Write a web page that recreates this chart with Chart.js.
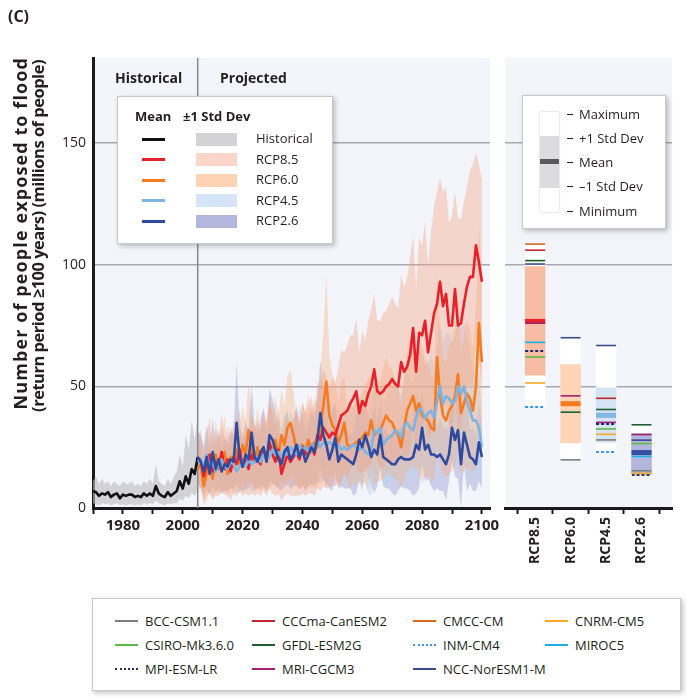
<!DOCTYPE html>
<html>
<head>
<meta charset="utf-8">
<script src="https://cdn.jsdelivr.net/npm/chart.js@4.4.1/dist/chart.umd.min.js"></script>
<style>
  body { margin: 0; background: #fff; font-family: 'Open Sans', 'Noto Sans', sans-serif; color: #231f20; }
  #wrap { position: relative; width: 687px; height: 698px; overflow: hidden; }
  canvas { position: absolute; top: 0; }
  .abs { position: absolute; white-space: nowrap; }
  .box { position: absolute; background: #fff; border: 1px solid #c9c9cb; box-shadow: 2px 2px 5px rgba(0,0,0,0.25); }
  .lbl { position: absolute; font-size: 13px; line-height: 16px; white-space: nowrap; }
  #ytitle { position: absolute; left: 0; top: 0; width: 358px; transform-origin: 0 0;
            transform: translate(11px, 415px) rotate(-90deg); text-align: right; font-weight: bold; white-space: nowrap; }
  #ytitle div { height: 18px; line-height: 18px; }
</style>
</head>
<body>
<div id="wrap">
  <canvas id="main" width="520" height="570" style="left:0"></canvas>
  <canvas id="side" width="197" height="570" style="left:490px"></canvas>
  <div class="abs" style="left:8px;top:5px;font-size:16px;font-weight:bold">(C)</div>
  <div id="ytitle">
    <div style="font-size:18px;letter-spacing:1.1px">Number of people exposed to flood</div>
    <div style="font-size:16.5px;letter-spacing:-0.5px;padding-right:3px">(return period &#8805;100 years) (millions of people)</div>
  </div>
  <div class="abs" style="left:115px;top:68px;font-size:14px;font-weight:bold">Historical</div>
  <div class="abs" style="left:220px;top:68px;font-size:14px;font-weight:bold">Projected</div>
  <div id="legMain" class="box" style="left:117px;top:96px;width:214px;height:146px"></div>
  <div id="legSide" class="box" style="left:522px;top:95px;width:142px;height:132px"></div>
  <div id="legModels" class="box" style="left:92px;top:598px;width:587px;height:91px"></div>
</div>
<script>
// ---- historical ensemble, 1970-2005 (millions of people)
const HIST_START = 1970;
const histMean = [
  7, 6.5, 5, 6, 5.5, 6.5, 4.5, 5.5, 6, 4,
  5.5, 5, 5.5, 5.5, 4.5, 5, 4.5, 6, 5, 6,
  5, 9, 6, 5, 4.5, 6.5, 5, 6, 7, 11,
  8, 13, 10, 16, 14, 21
];
const histUpper = [
  11, 13, 10, 12, 10, 11, 9, 11, 10, 9,
  11, 10, 10, 11, 9, 10, 9, 11, 10, 12,
  10, 18, 11, 10, 9, 12, 10, 13, 15, 22,
  17, 30, 24, 36, 28, 38
];
const histLower = [
  2, 1.5, 1, 2, 1.5, 2, 1, 1.5, 2, 1,
  1.5, 1, 1.5, 1.5, 1, 1.5, 1, 2, 1.5, 2,
  1.5, 3, 2, 1.5, 1, 2, 1.5, 2, 2, 4,
  3, 5, 4, 6, 5, 7
];

// ---- projections, 2005-2100
const PROJ_START = 2005;
const rcp85Mean = [
  20, 20, 13, 18, 22, 15, 19, 17, 23, 16,
  20, 15, 21, 18, 24, 17, 20, 16, 22, 19,
  21, 18, 24, 20, 27, 22, 19, 24, 14, 18,
  22, 19, 21, 23, 20, 25, 22, 24, 26, 22,
  30, 28, 33, 31, 29, 31, 30, 34, 38, 39,
  40, 43, 45, 48, 39, 44, 42, 47, 50, 57,
  48, 47, 48, 50, 51, 53, 51, 50, 60, 56,
  58, 63, 74, 56, 72, 71, 77, 64, 72, 80,
  84, 93, 83, 88, 75, 75, 90, 75, 76, 84,
  91, 95, 95, 108, 101, 93
];
const rcp60Mean = [
  16, 18, 9, 14, 20, 12, 22, 16, 19, 23,
  14, 21, 17, 24, 18, 26, 22, 32, 24, 20,
  25, 19, 23, 21, 26, 24, 28, 22, 30, 26,
  33, 35, 30, 24, 21, 26, 24, 28, 23, 27,
  25, 34, 42, 52, 38, 34, 32, 27, 30, 35,
  26, 25, 26, 27, 28, 29, 31, 30, 36, 30,
  31, 32, 35, 38, 36, 35, 32, 30, 25, 33,
  40, 43, 46, 40, 43, 38, 37, 36, 33, 32,
  62, 46, 38, 36, 40, 42, 46, 55, 39, 43,
  47, 45, 40, 50, 76, 60
];
const rcp45Mean = [
  19, 20, 17, 22, 16, 19, 15, 18, 20, 17,
  16, 19, 18, 15, 17, 19, 17, 20, 18, 19,
  21, 19, 22, 20, 21, 24, 22, 23, 21, 24,
  22, 25, 23, 22, 26, 24, 25, 23, 26, 24,
  28, 25, 27, 26, 27, 26, 25, 26, 24, 25,
  24, 25, 26, 25, 24, 25, 23, 22, 24, 32,
  31, 33, 26, 28, 29, 30, 32, 31, 29, 34,
  35, 33, 32, 37, 41, 40, 37, 39, 40, 37,
  44, 50, 43, 46, 45, 43, 44, 50, 47, 50,
  44, 40, 36, 36, 33, 25
];
const rcp26Mean = [
  21, 19, 15, 21, 14, 23, 16, 20, 15, 18,
  17, 20, 19, 35, 21, 17, 22, 20, 31, 21,
  19, 23, 25, 19, 30, 28, 24, 20, 18, 23,
  25, 20, 22, 26, 21, 24, 19, 22, 25, 23,
  28, 39, 30, 26, 20, 24, 29, 19, 22, 21,
  20, 19, 18, 22, 28, 25, 30, 26, 21, 24,
  22, 30, 21, 20, 19, 18, 18, 20, 21, 20,
  20, 20, 21, 26, 24, 33, 24, 26, 22, 22,
  21, 22, 20, 18, 22, 33, 28, 32, 18, 31,
  26, 21, 20, 18, 27, 21
];
// one standard deviation across models
const rcp85Sd = [
  10, 12, 10, 13, 15, 11, 14, 12, 16, 11,
  14, 12, 15, 13, 17, 12, 14, 11, 16, 14,
  15, 13, 17, 15, 19, 16, 14, 18, 11, 13,
  16, 14, 16, 18, 15, 19, 17, 18, 20, 17,
  22, 21, 24, 23, 20, 22, 21, 24, 27, 25,
  27, 28, 26, 30, 25, 29, 27, 30, 32, 31,
  29, 30, 32, 31, 33, 34, 33, 32, 36, 35,
  37, 40, 38, 35, 39, 37, 41, 36, 42, 44,
  46, 43, 47, 44, 42, 45, 40, 44, 43, 42,
  41, 44, 46, 38, 40, 42
];
const rcp60Sd = [
  10, 9, 8, 11, 13, 9, 14, 10, 12, 15,
  10, 13, 11, 15, 12, 16, 14, 20, 15, 13,
  16, 12, 15, 14, 17, 15, 18, 14, 19, 16,
  21, 22, 18, 15, 14, 17, 16, 19, 15, 18,
  17, 22, 30, 44, 25, 21, 20, 17, 22, 19,
  16, 17, 16, 18, 17, 19, 20, 23, 19, 21,
  20, 21, 23, 24, 22, 22, 20, 19, 17, 21,
  25, 27, 28, 25, 27, 28, 24, 23, 22, 21,
  35, 28, 24, 23, 26, 27, 29, 32, 25, 28,
  30, 29, 26, 33, 40, 34
];
const rcp45Sd = [
  10, 10, 9, 12, 9, 11, 8, 10, 12, 10,
  9, 11, 10, 9, 10, 12, 10, 12, 11, 12,
  13, 11, 13, 12, 13, 14, 13, 14, 12, 15,
  13, 15, 14, 13, 16, 14, 15, 13, 16, 14,
  17, 15, 16, 15, 16, 15, 16, 14, 15, 14,
  15, 14, 16, 15, 14, 15, 13, 16, 19, 20,
  18, 16, 17, 18, 19, 19, 20, 18, 17, 19,
  21, 20, 19, 21, 24, 23, 22, 21, 23, 22,
  21, 28, 25, 26, 27, 25, 26, 29, 27, 26,
  29, 24, 21, 21, 20, 16
];
const rcp26Sd = [
  10, 11, 10, 13, 9, 14, 10, 12, 9, 11,
  10, 12, 11, 25, 13, 10, 14, 12, 20, 13,
  11, 14, 16, 12, 19, 17, 15, 12, 11, 14,
  15, 12, 13, 16, 13, 15, 12, 13, 15, 14,
  17, 22, 18, 16, 12, 17, 14, 11, 13, 13,
  12, 11, 13, 16, 16, 18, 13, 13, 12, 18,
  13, 13, 12, 12, 11, 12, 13, 13, 12, 12,
  12, 13, 16, 20, 16, 15, 13, 14, 13, 15,
  13, 15, 13, 15, 11, 13, 15, 20, 18, 13,
  19, 11, 13, 11, 16, 13
];

// ---- end-of-century summary (right panel)
const SCENARIOS = ['RCP8.5', 'RCP6.0', 'RCP4.5', 'RCP2.6'];
const boxMin  = [41.4, 19.8, 23.1, 13.3];
const boxLo   = [54.6, 26.8, 27.0, 13.8];
const boxMean = [76.7, 42.9, 38.1, 22.8];
const boxHi   = [99.3, 59.0, 49.4, 30.6];
const boxMax  = [108.5, 70.0, 66.8, 34.2];

const MODEL_NAMES = ['BCC-CSM1.1', 'CCCma-CanESM2', 'CMCC-CM', 'CNRM-CM5',
  'CSIRO-Mk3.6.0', 'GFDL-ESM2G', 'INM-CM4', 'MIROC5',
  'MPI-ESM-LR', 'MRI-CGCM3', 'NCC-NorESM1-M'];
// per model: RCP8.5, RCP6.0, RCP4.5, RCP2.6
const MODEL_VALUES = [
  [null, 19.8, 28.0, 15.3],
  [106.0, null, 45.1, null],
  [108.5, null, null, null],
  [51.4, null, 30.3, 14.2],
  [62.1, null, 32.5, 26.5],
  [101.7, 39.4, 40.5, 34.2],
  [41.4, null, 23.1, null],
  [68.1, null, null, 21.2],
  [64.7, null, 34.7, 13.5],
  [76.0, 46.1, 35.2, 30.2],
  [100.3, 70.0, 66.8, 27.9]
];
const MODEL_COLORS = ['#7f7f7f', '#c1272d', '#d86a1c', '#f7a823', '#5cb946', '#1d5f32',
  '#3b97e3', '#1ab0e3', '#1f2d6e', '#a3206f', '#3c4a8e'];
const MODEL_DOTTED = [false, false, false, false, false, false, true, false, true, false, false];

const FONT = "'Open Sans', 'Noto Sans', sans-serif";
const INK = '#231f20';
const GRID = '#a9a9ad';
const Y_MAX = 185;

const series = [
  {name: 'RCP8.5', mean: rcp85Mean, sd: rcp85Sd, line: '#e8202a', band: 'rgba(246,160,128,0.38)', swatch: '#fbd5c9', box: '#f7bca4', mark: '#e8202a'},
  {name: 'RCP6.0', mean: rcp60Mean, sd: rcp60Sd, line: '#f47b20', band: 'rgba(250,175,120,0.36)', swatch: '#fdd3b4', box: '#fdd4b6', mark: '#f47b20'},
  {name: 'RCP4.5', mean: rcp45Mean, sd: rcp45Sd, line: '#7db4e3', band: 'rgba(185,212,240,0.45)', swatch: '#d5e5f5', box: '#d4e4f4', mark: '#84b6e2'},
  {name: 'RCP2.6', mean: rcp26Mean, sd: rcp26Sd, line: '#2f4a9e', band: 'rgba(135,140,205,0.36)', swatch: '#b4b7dd', box: '#b3b6dc', mark: '#3550a2'}
];

const pts = (start, arr) => arr.map((v, i) => ({x: start + i, y: v}));

const plotBg = {
  id: 'plotBg',
  beforeDraw(c) {
    const a = c.chartArea, ctx = c.ctx;
    ctx.save();
    ctx.fillStyle = '#f3f5fa';
    ctx.fillRect(a.left, a.top, a.right - a.left, a.bottom - a.top);
    ctx.restore();
  }
};

// ---------- main time-series chart
const ds = [];
ds.push({data: pts(HIST_START, histUpper), fill: '+1', backgroundColor: 'rgba(190,190,194,0.62)', borderWidth: 0, pointRadius: 0, order: 20});
ds.push({data: pts(HIST_START, histLower), fill: false, borderWidth: 0, pointRadius: 0, order: 21});
series.forEach((s, k) => {
  ds.push({data: pts(PROJ_START, s.mean.map((m, i) => m + s.sd[i])), fill: '+1', backgroundColor: s.band,
    borderWidth: 0, pointRadius: 0, order: 12 + k});
  ds.push({data: pts(PROJ_START, s.mean.map((m, i) => Math.max(0, m - s.sd[i]))), fill: false,
    borderWidth: 0, pointRadius: 0, order: 12 + k});
});
ds.push({data: [{x: PROJ_START, y: 0}, {x: PROJ_START, y: Y_MAX}], borderColor: '#8a8a8c', borderWidth: 1.5, pointRadius: 0, order: 8});
ds.push({data: pts(HIST_START, histMean), borderColor: '#111', borderWidth: 2.6, pointRadius: 0, order: 5});
const lineOrder = [3, 4, 2, 1];
series.forEach((s, k) => {
  ds.push({data: pts(PROJ_START, s.mean), borderColor: s.line, borderWidth: 2.6, pointRadius: 0, order: lineOrder[k]});
});

new Chart(document.getElementById('main'), {
  type: 'line',
  data: {datasets: ds},
  options: {
    responsive: false, animation: false, events: [],
    layout: {padding: {top: 58, right: 30, left: 0, bottom: 0}},
    elements: {line: {tension: 0, borderJoinStyle: 'round'}},
    plugins: {legend: {display: false}, tooltip: {enabled: false}},
    scales: {
      x: {
        type: 'linear', min: 1970, max: 2102.7,
        afterFit: s => { s.height = 62; },
        border: {display: true, color: '#1a1a1a', width: 3},
        grid: {drawOnChartArea: false, drawTicks: true, tickLength: 6, tickColor: '#1a1a1a', tickWidth: 2},
        ticks: {stepSize: 10, includeBounds: false, autoSkip: false, maxTicksLimit: 30, maxRotation: 0,
          padding: 3, color: INK, font: {family: FONT, size: 15, weight: 'bold'},
          callback: v => (v % 20 === 0 && v > 1970 ? String(v) : '')}
      },
      y: {
        min: 0, max: Y_MAX,
        afterFit: s => { s.width = 93; },
        border: {display: true, color: '#1a1a1a', width: 3},
        grid: {drawTicks: false, lineWidth: 1.6, color: c => (c.tick.value === 0 ? 'rgba(0,0,0,0)' : GRID)},
        ticks: {stepSize: 50, includeBounds: false, padding: 7, color: INK, font: {family: FONT, size: 14}}
      }
    }
  },
  plugins: [plotBg]
});

// ---------- end-of-century summary chart
function dottedMark(color) {
  const c = document.createElement('canvas');
  c.width = 20; c.height = 2;
  const g = c.getContext('2d');
  g.fillStyle = color;
  for (let x = 0; x < 20; x += 5) g.fillRect(x, 0, 3, 2);
  return c;
}
const sideDs = [];
sideDs.push({type: 'bar', data: boxMin.map((v, i) => ({x: i + 1, y: [v, boxMax[i]]})),
  backgroundColor: '#ffffff', barThickness: 20, grouped: false, order: 10});
sideDs.push({type: 'bar', data: boxLo.map((v, i) => ({x: i + 1, y: [v, boxHi[i]]})),
  backgroundColor: series.map(s => s.box), barThickness: 20, grouped: false, order: 9});
sideDs.push({type: 'scatter', data: boxMean.map((v, i) => ({x: i + 1, y: v})),
  pointStyle: 'line', pointRadius: 10, pointBorderWidth: 5,
  pointBorderColor: series.map(s => s.mark), order: 5});
MODEL_NAMES.forEach((name, m) => {
  const data = [];
  MODEL_VALUES[m].forEach((v, i) => { if (v !== null) data.push({x: i + 1, y: v}); });
  sideDs.push({type: 'scatter', data,
    pointStyle: MODEL_DOTTED[m] ? dottedMark(MODEL_COLORS[m]) : 'line',
    pointRadius: 10, pointBorderWidth: 1.6, pointBorderColor: MODEL_COLORS[m], order: 1});
});

new Chart(document.getElementById('side'), {
  type: 'bar',
  data: {datasets: sideDs},
  options: {
    responsive: false, animation: false, events: [],
    layout: {padding: {top: 58, right: 2, left: 8, bottom: 0}},
    plugins: {legend: {display: false}, tooltip: {enabled: false}},
    scales: {
      x: {
        type: 'linear', min: 0.15, max: 4.86, offset: false,
        afterFit: s => { s.height = 62; },
        border: {display: true, color: '#1a1a1a', width: 3},
        grid: {drawOnChartArea: false, drawTicks: true, tickLength: 6, tickColor: '#1a1a1a', tickWidth: 2},
        ticks: {stepSize: 1, includeBounds: false, autoSkip: false, minRotation: 90, maxRotation: 90,
          padding: 3, color: INK, font: {family: FONT, size: 14, weight: 'bold'},
          callback: v => SCENARIOS[v - 1] || ''}
      },
      y: {
        min: 0, max: Y_MAX,
        afterFit: s => { s.width = 0; },
        border: {display: false},
        grid: {drawTicks: false, lineWidth: 1.6, color: c => (c.tick.value === 0 ? 'rgba(0,0,0,0)' : GRID)},
        ticks: {display: false, stepSize: 50, includeBounds: false}
      }
    }
  },
  plugins: [plotBg]
});

// ---------- legends (HTML text)
const legMain = document.getElementById('legMain');
let h = '<div class="lbl" style="left:17px;top:11px;font-weight:bold">Mean</div>' +
        '<div class="lbl" style="left:65px;top:11px;font-weight:bold">\u00b11 Std Dev</div>';
const rows = [{name: 'Historical', line: '#111', swatch: '#d3d3d5'}].concat(series);
rows.forEach((r, i) => {
  const cy = 42 + i * 20.5;
  h += `<div style="position:absolute;left:24px;top:${cy - 1.5}px;width:23px;height:3px;background:${r.line}"></div>`;
  h += `<div style="position:absolute;left:78px;top:${cy - 6.5}px;width:41px;height:13px;background:${r.swatch}"></div>`;
  h += `<div class="lbl" style="left:138px;top:${cy - 9}px">${r.name}</div>`;
});
legMain.innerHTML = h;

const legSide = document.getElementById('legSide');
let k = '<div style="position:absolute;left:17px;top:16px;width:19px;height:100px;background:#fff;box-shadow:0 0 2px rgba(0,0,0,0.25)"></div>' +
        '<div style="position:absolute;left:17px;top:40px;width:19px;height:52px;background:#dcdcde"></div>' +
        '<div style="position:absolute;left:17px;top:63px;width:19px;height:5px;background:#5a5a5c"></div>';
['Maximum', '+1 Std Dev', 'Mean', '\u20131 Std Dev', 'Minimum'].forEach((t, i) => {
  const cy = [18, 42, 66, 90, 115][i];
  k += `<div style="position:absolute;left:44px;top:${cy}px;width:6px;height:1.3px;background:${INK}"></div>`;
  k += `<div class="lbl" style="left:56px;top:${cy - 8}px">${t}</div>`;
});
legSide.innerHTML = k;

const legModels = document.getElementById('legModels');
const colX = [22, 159, 320, 452];
let g = '';
MODEL_NAMES.forEach((name, m) => {
  const col = m % 4, row = Math.floor(m / 4);
  const cy = 22 + row * 24;
  const st = MODEL_DOTTED[m] ? `border-top:2px dotted ${MODEL_COLORS[m]}` : `border-top:2px solid ${MODEL_COLORS[m]}`;
  g += `<div style="position:absolute;left:${colX[col]}px;top:${cy - 1}px;width:23px;height:0;${st}"></div>`;
  g += `<div class="lbl" style="left:${colX[col] + 30}px;top:${cy - 8}px">${name}</div>`;
});
legModels.innerHTML = g;
</script>
</body>
</html>
